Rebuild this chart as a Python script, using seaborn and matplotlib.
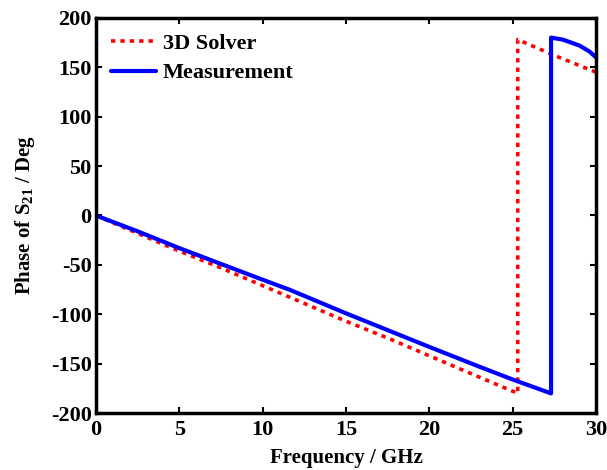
import numpy as np
import pandas as pd
import seaborn as sns
import matplotlib.pyplot as plt

# values
solver_freq = [0, 2.5, 5, 7.5, 10, 12.5, 15, 17.5, 20, 22.5, 25.3, 25.3, 27.5, 30]
solver_phase = [0, -18, -36, -53, -71, -89, -107, -124, -142, -160, -180, 178, 162, 145]

meas_freq = [0, 2.5, 5, 7.5, 10, 11.6, 15, 17.5, 20, 23, 25, 27.3, 27.3, 28, 29, 29.6, 30]
meas_phase = [0, -16, -33, -49, -65, -75, -99, -116, -133, -153, -166, -180, 180, 178, 172, 166, 160]

solver = pd.DataFrame({"freq": solver_freq, "phase": solver_phase})
meas = pd.DataFrame({"freq": meas_freq, "phase": meas_phase})

sns.set_style("ticks")
plt.rcParams['font.family'] = ['Liberation Serif', 'DejaVu Serif']
plt.rcParams['font.weight'] = 'bold'
plt.rcParams['mathtext.default'] = 'regular'
plt.rcParams['axes.unicode_minus'] = False
plt.rcParams['text.color'] = 'black'
plt.rcParams['axes.labelcolor'] = 'black'
plt.rcParams['xtick.color'] = 'black'
plt.rcParams['ytick.color'] = 'black'
plt.rcParams['axes.edgecolor'] = 'black'

fig = plt.figure(figsize=(6.07, 4.70), dpi=100)
ax = fig.add_axes([0.158, 0.121, 0.824, 0.841])

sns.lineplot(x="freq", y="phase", data=solver, sort=False, estimator=None, ax=ax,
             color="#ff0000", linestyle=(0, (1.2, 1.4)), linewidth=2.6, label="3D Solver")
sns.lineplot(x="freq", y="phase", data=meas, sort=False, estimator=None, ax=ax,
             color="#0000ff", linewidth=3, label="Measurement")

ax.set_xlim(0, 30)
ax.set_ylim(-200, 200)
ax.set_xticks(np.arange(0, 31, 5))
ax.set_yticks(np.arange(-200, 201, 50))
ax.set_xlabel("Frequency / GHz", fontsize=15, fontweight="bold", labelpad=6)
ax.set_ylabel("Phase of S$_{21}$ / Deg", fontsize=15, fontweight="bold", labelpad=10)

for s in ax.spines.values():
    s.set_linewidth(2.5)
    s.set_visible(True)
    s.set_color("black")
ax.tick_params(direction="in", length=4, width=1.5, top=True, right=True, labelsize=16)
ax.tick_params(axis="x", pad=5)
ax.tick_params(axis="y", pad=3)
for lab in ax.get_xticklabels() + ax.get_yticklabels():
    lab.set_fontweight("bold")

leg = ax.legend(loc="upper left", frameon=False, fontsize=16, handlelength=2.0,
                handletextpad=0.3, borderaxespad=0.3, labelspacing=0.4)
for t in leg.get_texts():
    t.set_fontweight("bold")

plt.savefig("out.png", dpi=100)
